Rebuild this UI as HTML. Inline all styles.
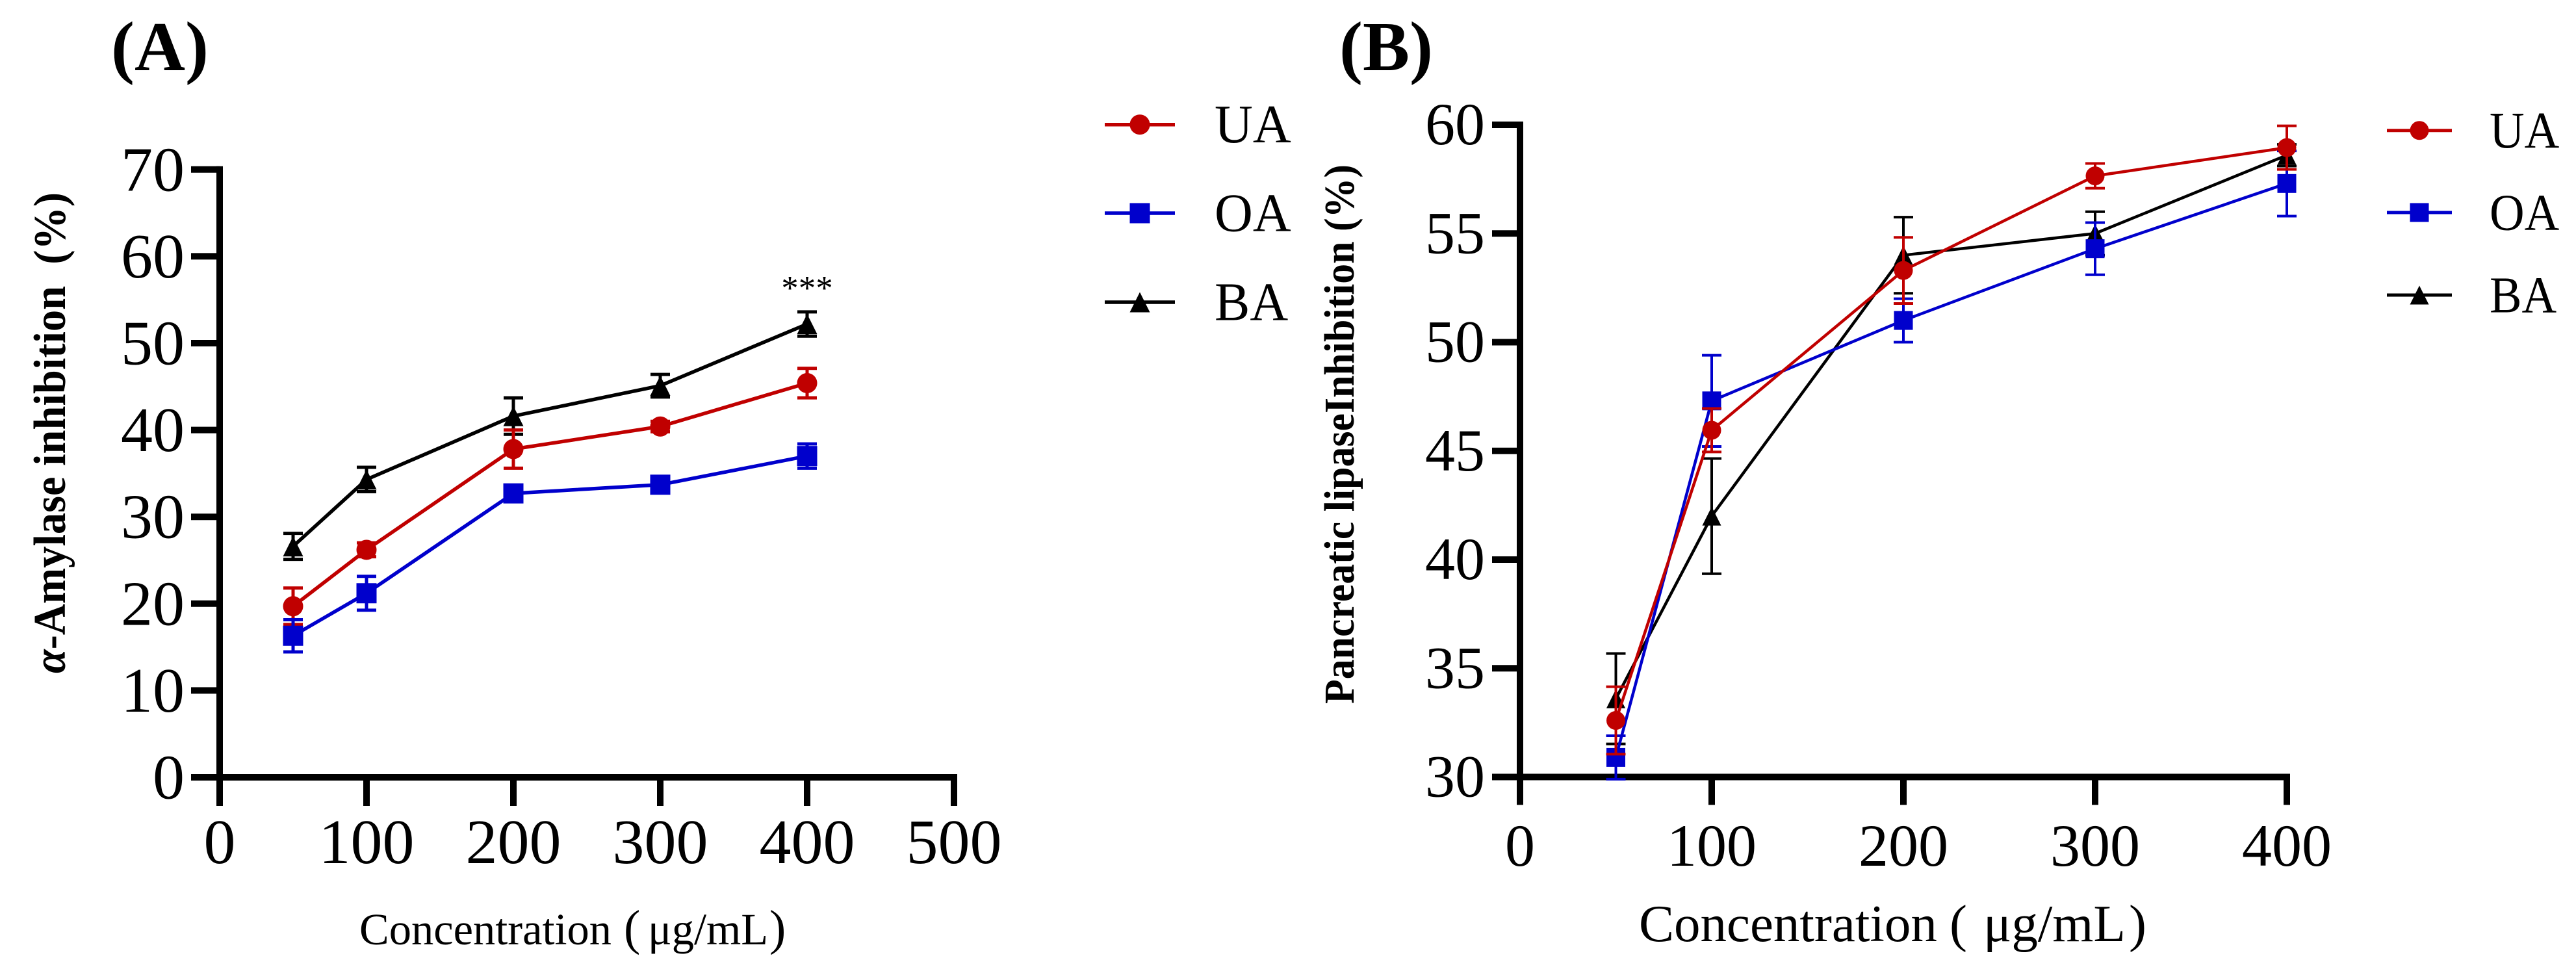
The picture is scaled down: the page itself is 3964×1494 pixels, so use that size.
<!DOCTYPE html>
<html lang="en">
<head>
<meta charset="utf-8">
<title>Inhibition charts</title>
<style>
html,body{margin:0;padding:0;background:#fff;width:3964px;height:1494px;overflow:hidden}
svg{display:block}
text{font-family:"Liberation Serif","Noto Serif CJK SC",serif;fill:#000}
</style>
</head>
<body>
<svg id="chart" xmlns="http://www.w3.org/2000/svg" width="3964" height="1494" viewBox="0 0 3964 1494">
  <rect width="3964" height="1494" fill="#fff"/>
  <text x="171" y="108" font-size="108" font-weight="bold">(A)</text>
  <text x="2061" y="108" font-size="108" font-weight="bold">(B)</text>
  <text transform="translate(100,1036) rotate(-90)" font-size="70" font-weight="bold" textLength="740" lengthAdjust="spacingAndGlyphs" xml:space="preserve"><tspan font-style="italic">α</tspan>-Amylase inhibition  (%)</text>
  <text transform="translate(2083,1083) rotate(-90)" font-size="66" font-weight="bold" textLength="830" lengthAdjust="spacingAndGlyphs">Pancreatic lipaseInhibition (%)</text>
  <text y="1453" font-size="68.5"><tspan x="553">Concentration</tspan><tspan x="960" font-size="76">(</tspan><tspan x="997">μg/mL</tspan><tspan x="1184" font-size="76">)</tspan></text>
  <text y="1448" font-size="81"><tspan x="2522">Concentration</tspan><tspan x="3000">(</tspan><tspan x="3052">μg/mL</tspan><tspan x="3276">)</tspan></text>
  <g id="panel-a"></g>
  <g id="panel-b"></g>
</svg>
<script>
// Shared categories
const concentrations = [50, 100, 200, 300, 400];
const seriesNames = ['UA', 'OA', 'BA'];

// Panel A values
const aXTicks = [0, 100, 200, 300, 400, 500];
const aYTicks = [0, 10, 20, 30, 40, 50, 60, 70];
const aUA = [19.7, 26.2, 37.8, 40.4, 45.4];
const aUAErr = [2.1, 0.8, 2.2, 0.6, 1.7];
const aOA = [16.3, 21.2, 32.7, 33.7, 37.0];
const aOAErr = [1.85, 1.95, 0.6, 0.6, 1.4];
const aBA = [26.6, 34.3, 41.6, 45.1, 52.2];
const aBAErr = [1.5, 1.4, 2.1, 1.3, 1.4];
const aSigLabel = '***';
const aSigX = 400;
const aSigValue = 55;

// Panel B values
const bXTicks = [0, 100, 200, 300, 400];
const bYTicks = [30, 35, 40, 45, 50, 55, 60];
const bUA = [32.6, 45.95, 53.3, 57.65, 58.95];
const bUAErr = [1.55, 1.0, 1.52, 0.57, 1.0];
const bOA = [30.9, 47.3, 51.0, 54.3, 57.3];
const bOAErr = [1.0, 2.1, 1.0, 1.2, 1.5];
const bBA = [33.6, 42.0, 54.0, 55.0, 58.6];
const bBAErr = [2.08, 2.65, 1.75, 1.0, 0.5];

const NS = 'http://www.w3.org/2000/svg';
const colors = { UA: '#c00000', OA: '#0000cc', BA: '#000000' };

function svgEl(parent, tag, attrs) {
  const el = document.createElementNS(NS, tag);
  for (const k in attrs) el.setAttribute(k, attrs[k]);
  parent.appendChild(el);
  return el;
}

function drawMarker(g, name, cx, cy, s, color) {
  let m;
  if (name === 'UA') {
    m = svgEl(g, 'circle', { cx: cx, cy: cy, r: s, fill: color });
  } else if (name === 'OA') {
    m = svgEl(g, 'rect', { x: cx - s, y: cy - s, width: 2 * s, height: 2 * s, fill: color });
  } else {
    m = svgEl(g, 'polygon', { points: (cx) + ',' + (cy - s) + ' ' + (cx + s) + ',' + (cy + s) + ' ' + (cx - s) + ',' + (cy + s), fill: color });
  }
  
  
}

function drawPanel(cfg) {
  const g = document.getElementById(cfg.id);
  const xScale = v => cfg.x0 + (v - cfg.xMin) * cfg.xPx;
  const yScale = v => cfg.y0 - (v - cfg.yMin) * cfg.yPx;
  const xEnd = xScale(cfg.xTicks[cfg.xTicks.length - 1]);
  const yTop = yScale(cfg.yTicks[cfg.yTicks.length - 1]);

  const yAxis = svgEl(g, 'line', { x1: cfg.x0, x2: cfg.x0, y1: yTop - cfg.axisW / 2, y2: cfg.y0, stroke: '#000', 'stroke-width': cfg.axisW });
  
  
  const xAxis = svgEl(g, 'line', { x1: cfg.x0, x2: xEnd + cfg.axisW / 2, y1: cfg.y0, y2: cfg.y0, stroke: '#000', 'stroke-width': cfg.axisW });
  
  

  cfg.yTicks.forEach(v => {
    const y = yScale(v);
    const t = svgEl(g, 'line', { x1: cfg.x0 - cfg.tickLen, x2: cfg.x0, y1: y, y2: y, stroke: '#000', 'stroke-width': cfg.axisW });
    
    
    const l = svgEl(g, 'text', { x: cfg.yLabelX, y: y + cfg.yLabelDy, 'text-anchor': 'end', 'font-size': cfg.tickFont });
    
    
    l.textContent = v;
  });
  cfg.xTicks.forEach(v => {
    const x = xScale(v);
    const t = svgEl(g, 'line', { x1: x, x2: x, y1: cfg.y0, y2: cfg.y0 + cfg.tickLen, stroke: '#000', 'stroke-width': cfg.axisW });
    
    
    const l = svgEl(g, 'text', { x: x, y: cfg.xLabelY, 'text-anchor': 'middle', 'font-size': cfg.tickFont });
    
    
    l.textContent = v;
  });

  cfg.order.forEach(name => {
    const values = cfg.values[name];
    const errs = cfg.errors[name];
    const color = colors[name];
    const sg = svgEl(g, 'g', {});
    
    
    const pts = concentrations.map((c, i) => xScale(c) + ',' + yScale(values[i])).join(' ');
    const line = svgEl(sg, 'polyline', { points: pts, fill: 'none', stroke: color, 'stroke-width': cfg.lineW, 'stroke-linejoin': 'round' });
    
    
    concentrations.forEach((c, i) => {
      const x = xScale(c);
      const hi = yScale(values[i] + errs[i]);
      const lo = yScale(values[i] - errs[i]);
      const p = 'M' + x + ' ' + hi + 'V' + lo + 'M' + (x - cfg.cap) + ' ' + hi + 'H' + (x + cfg.cap) + 'M' + (x - cfg.cap) + ' ' + lo + 'H' + (x + cfg.cap);
      const e = svgEl(sg, 'path', { d: p, fill: 'none', stroke: color, 'stroke-width': cfg.errW });
      
      
      drawMarker(sg, name, x, yScale(values[i]), cfg.marker, color);
    });
  });

  seriesNames.forEach((name, i) => {
    const y = cfg.legendY[i];
    const color = colors[name];
    const lg = svgEl(g, 'g', {});
    
    
    const ll = svgEl(lg, 'line', { x1: cfg.legendX1, x2: cfg.legendX2, y1: y, y2: y, stroke: color, 'stroke-width': cfg.legendLineW });
    
    
    drawMarker(lg, name, (cfg.legendX1 + cfg.legendX2) / 2, y, cfg.legendMarker, color);
    const lt = svgEl(lg, 'text', { transform: 'translate(' + cfg.legendTextX + ',' + (y + cfg.legendDy) + ') scale(' + cfg.legendSx + ',1)', 'font-size': cfg.legendFont });
    
    
    lt.textContent = name;
  });

  if (cfg.sigLabel) {
    const s = svgEl(g, 'text', { x: xScale(cfg.sigX), y: yScale(cfg.sigValue), 'text-anchor': 'middle', 'font-size': 53 });
    
    
    s.textContent = cfg.sigLabel;
  }
}

drawPanel({
  id: 'panel-a', x0: 338, xMin: 0, xPx: 2.26, y0: 1196, yMin: 0, yPx: 13.36,
  xTicks: aXTicks, yTicks: aYTicks,
  values: { UA: aUA, OA: aOA, BA: aBA }, errors: { UA: aUAErr, OA: aOAErr, BA: aBAErr },
  order: ['BA', 'UA', 'OA'],
  axisW: 10, tickLen: 44, lineW: 5.5, errW: 5, cap: 15, marker: 15.5,
  tickFont: 98, yLabelX: 284, yLabelDy: 32.5, xLabelY: 1328,
  legendY: [191.7, 328, 465], legendX1: 1700, legendX2: 1808, legendTextX: 1869, legendDy: 27.5, legendFont: 84, legendSx: 0.97, legendMarker: 15.5, legendLineW: 5.5,
  sigLabel: aSigLabel, sigX: aSigX, sigValue: aSigValue
});

drawPanel({
  id: 'panel-b', x0: 2339, xMin: 0, xPx: 2.95, y0: 1195.5, yMin: 30, yPx: 33.45,
  xTicks: bXTicks, yTicks: bYTicks,
  values: { UA: bUA, OA: bOA, BA: bBA }, errors: { UA: bUAErr, OA: bOAErr, BA: bBAErr },
  order: ['BA', 'OA', 'UA'],
  axisW: 10, tickLen: 43, lineW: 4.5, errW: 4, cap: 15, marker: 14.5,
  tickFont: 92, yLabelX: 2285, yLabelDy: 30, xLabelY: 1332,
  legendY: [200.7, 327, 454], legendX1: 3673, legendX2: 3773, legendTextX: 3831, legendDy: 26.5, legendFont: 79, legendSx: 0.94, legendMarker: 14.5, legendLineW: 5
});
</script>
</body>
</html>
